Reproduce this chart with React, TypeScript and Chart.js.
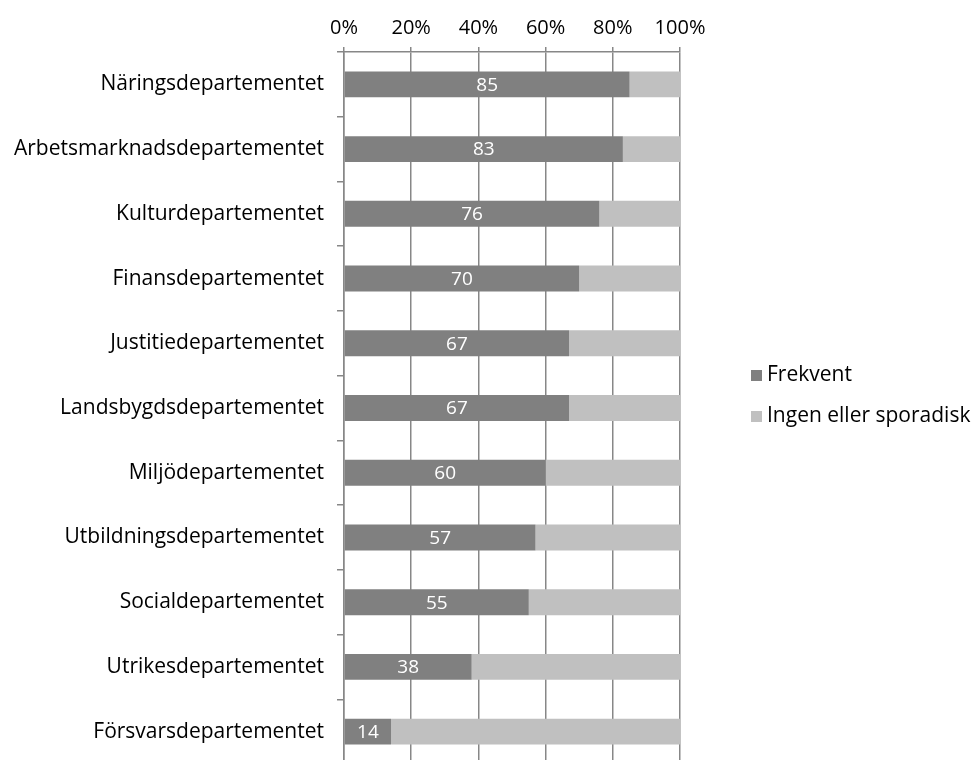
import React, { useEffect, useRef } from "react";
import { Chart, registerables } from "chart.js";

Chart.register(...registerables);

const categories = [
  "Näringsdepartementet",
  "Arbetsmarknadsdepartementet",
  "Kulturdepartementet",
  "Finansdepartementet",
  "Justitiedepartementet",
  "Landsbygdsdepartementet",
  "Miljödepartementet",
  "Utbildningsdepartementet",
  "Socialdepartementet",
  "Utrikesdepartementet",
  "Försvarsdepartementet",
];
const frekvent = [85, 83, 76, 70, 67, 67, 60, 57, 55, 38, 14];
const ingen = [15, 17, 24, 30, 33, 33, 40, 43, 45, 62, 86];
const seriesNames = ["Frekvent", "Ingen eller sporadisk"];
const seriesColors = ["#808080", "#c0c0c0"];
const xTicks = [0, 20, 40, 60, 80, 100];

const FONT = "'Open Sans', sans-serif";
const GRID = "#878787";

const labelPlugin = {
  id: "barLabels",
  afterDatasetsDraw(chart: any) {
    const ctx = chart.ctx;
    const meta = chart.getDatasetMeta(0);
    ctx.save();
    ctx.fillStyle = "#ffffff";
    ctx.font = `19px ${FONT}`;
    ctx.textAlign = "center";
    ctx.textBaseline = "middle";
    meta.data.forEach((bar: any, i: number) => {
      const x = (bar.x + bar.base) / 2;
      ctx.fillText(String(frekvent[i]), x, bar.y + 1);
    });
    ctx.restore();
  },
};

const legendPlugin = {
  id: "customLegend",
  afterDraw(chart: any) {
    const ctx = chart.ctx;
    const area = chart.chartArea;
    const x0 = area.right + 71;
    const yMid = (area.top + area.bottom) / 2 - 12;
    const gap = 41;
    ctx.save();
    ctx.font = `21px ${FONT}`;
    ctx.textBaseline = "middle";
    ctx.textAlign = "left";
    seriesNames.forEach((name, i) => {
      const y = yMid - gap / 2 + i * gap;
      ctx.fillStyle = seriesColors[i];
      ctx.fillRect(x0, y - 5.5, 11, 11);
      ctx.fillStyle = "#000000";
      ctx.fillText(name, x0 + 16, y);
    });
    ctx.restore();
  },
};

export default function App() {
  const ref = useRef<HTMLCanvasElement | null>(null);
  useEffect(() => {
    if (!ref.current) return;
    const chart = new Chart(ref.current, {
      type: "bar",
      data: {
        labels: categories,
        datasets: [
          { label: seriesNames[0], data: frekvent, backgroundColor: seriesColors[0] },
          { label: seriesNames[1], data: ingen, backgroundColor: seriesColors[1] },
        ],
      },
      options: {
        indexAxis: "y",
        animation: false,
        responsive: false,
        devicePixelRatio: 1,
        layout: { padding: { top: 0, right: 293, bottom: 0, left: 0 } },
        datasets: { bar: { categoryPercentage: 1, barPercentage: 0.4 } },
        plugins: { legend: { display: false }, tooltip: { enabled: false } },
        scales: {
          x: {
            position: "top",
            stacked: true,
            min: 0,
            max: 100,
            afterBuildTicks: (scale: any) => {
              scale.ticks = xTicks.map((v) => ({ value: v }));
            },
            ticks: {
              color: "#000",
              font: { family: FONT, size: 20 },
              padding: 7,
              callback: (v: any) => `${v}%`,
              maxRotation: 0,
            },
            grid: { color: GRID, lineWidth: 1.5, tickLength: 5 },
            border: { display: true, color: GRID, width: 1.5 },
            afterFit: (scale: any) => {
              scale.height = 52;
            },
          },
          y: {
            stacked: true,
            ticks: {
              color: "#000",
              font: { family: FONT, size: 21 },
              padding: 13,
            },
            grid: { drawOnChartArea: false, color: GRID, lineWidth: 1.5, tickLength: 7, offset: true },
            border: { display: true, color: GRID, width: 1.5 },
            afterFit: (scale: any) => {
              scale.width = 344;
              scale.paddingTop = 0;
              scale.paddingBottom = 0;
            },
          },
        },
      },
      plugins: [labelPlugin, legendPlugin],
    });
    return () => chart.destroy();
  }, []);
  return (
    <div
      style={{
        position: "fixed",
        left: 0,
        top: 0,
        width: 973,
        height: 760,
        overflow: "hidden",
        background: "#fff",
      }}
    >
      <canvas ref={ref} width={973} height={764} style={{ width: 973, height: 764, display: "block" }} />
    </div>
  );
}
